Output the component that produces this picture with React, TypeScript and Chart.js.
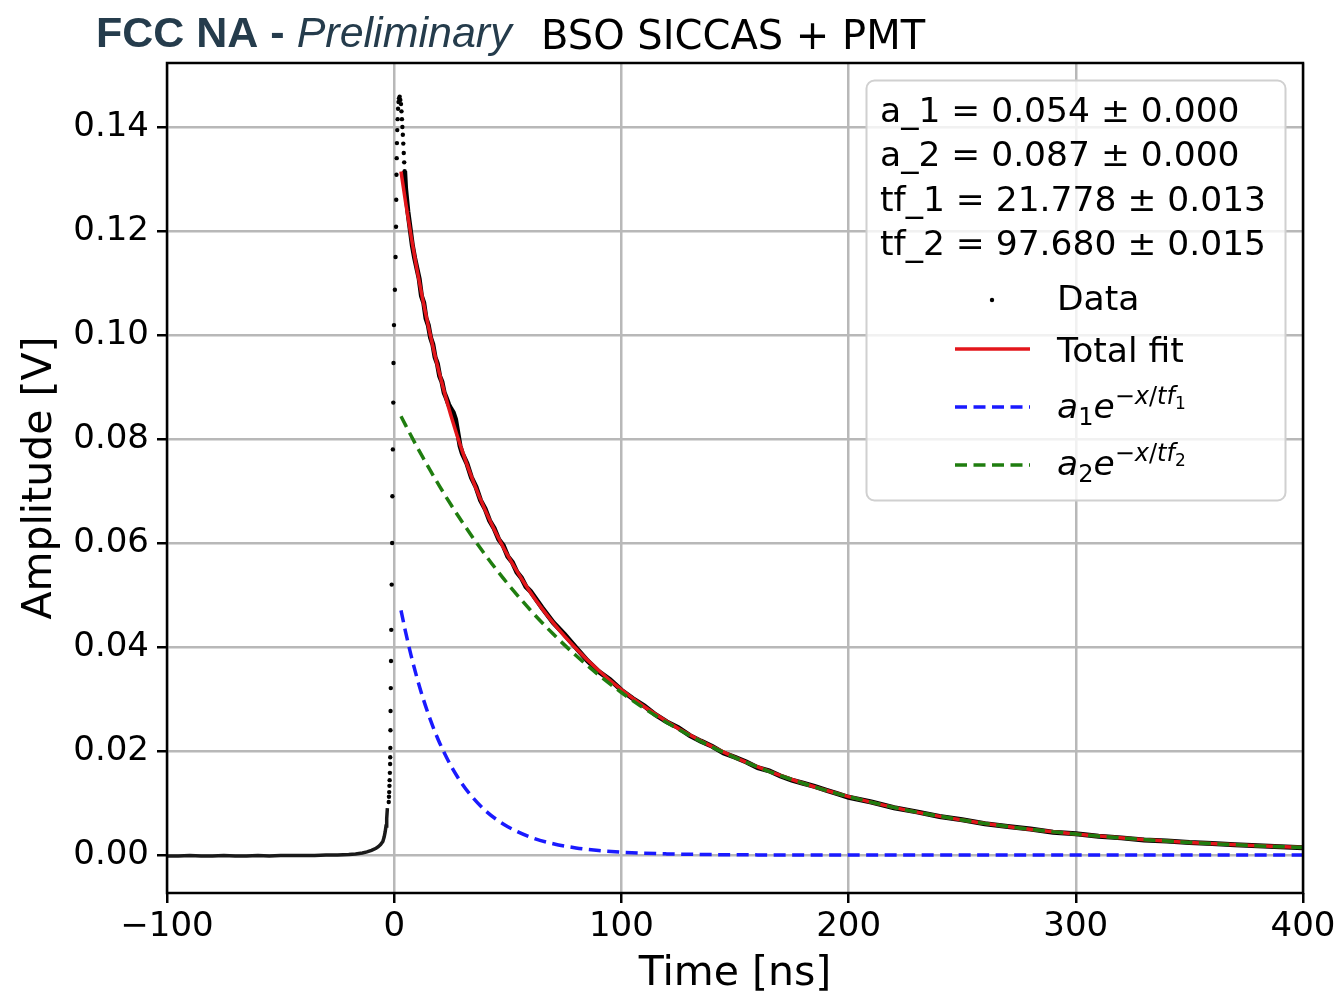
import React, { useEffect, useRef } from 'react';
import { Chart, registerables } from 'chart.js';

Chart.register(...registerables);

// ---------- tick labels ----------
const X_TICKS = [-100, 0, 100, 200, 300, 400];
const Y_TICKS = [0, 0.02, 0.04, 0.06, 0.08, 0.1, 0.12, 0.14];

// ---------- legend text ----------
const PARAM_LINES = [
  'a_1 = 0.054 \u00b1 0.000',
  'a_2 = 0.087 \u00b1 0.000',
  'tf_1 = 21.778 \u00b1 0.013',
  'tf_2 = 97.680 \u00b1 0.015',
];

// ---------- data: baseline + knee (ns, V) ----------
const baseTimes = [-100, -95, -90, -85, -80, -75, -70, -65, -60, -55, -50, -45, -40, -35, -30, -25, -20, -17, -14, -12, -10, -8, -7, -6, -5, -4.4, -4, -3.6, -3.3, -3.0];
const baseAmps = [-0.0002, -0.0002, -0.0001, -0.0002, -0.0002, -0.0001, -0.0002, -0.0002, -0.0001, -0.0002, -0.0001, -0.0001, -0.0001, -0.0001, 0.0, 0.0, 0.0001, 0.0002, 0.0004, 0.0006, 0.0009, 0.0013, 0.0016, 0.002, 0.0026, 0.0035, 0.0044, 0.0056, 0.007, 0.009];

// ---------- data: rising edge + peak (sparse dots) ----------
const riseTimes = [-2.4, -2.3, -2.2, -2.1, -2.0, -1.9, -1.8, -1.75, -1.7, -1.65, -1.6, -1.5, -1.4, -1.3, -1.1, -0.9, -0.8, -0.6, -0.4, -0.3, -0.1, 0.3, 0.6, 0.8, 0.9, 1.0, 1.1, 1.2, 1.35, 1.5, 1.7, 1.9, 2.1, 2.4, 2.7, 3.0, 3.2, 3.4, 3.6, 3.8, 4.0, 4.2, 4.4, 4.6];
const riseAmps = [0.0102, 0.0112, 0.0121, 0.0133, 0.0144, 0.0158, 0.0175, 0.0188, 0.0206, 0.024, 0.0277, 0.0321, 0.0373, 0.0433, 0.052, 0.06, 0.069, 0.078, 0.087, 0.0946, 0.1019, 0.1087, 0.115, 0.1208, 0.126, 0.1308, 0.134, 0.1369, 0.1394, 0.1415, 0.1435, 0.1448, 0.1455, 0.1458, 0.1452, 0.1444, 0.143, 0.1415, 0.14, 0.1385, 0.1368, 0.135, 0.1332, 0.1315];

// ---------- data: decay ----------
const decayTimes = [4.6, 5, 6, 7, 8, 9, 10, 11, 12, 13, 14, 15, 16, 17, 18, 19, 20, 21, 22, 23, 24, 25, 26, 27, 28, 29, 30, 32, 34, 36, 38, 40, 42, 44, 46, 48, 50, 52, 54, 56, 58, 60, 65, 70, 75, 80, 85, 90, 95, 100, 105, 110, 115, 120, 125, 130, 135, 140, 145, 150, 155, 160, 165, 170, 175, 180, 185, 190, 195, 200, 210, 220, 230, 240, 250, 260, 270, 280, 290, 300, 310, 320, 330, 340, 350, 360, 370, 380, 390, 400];
const decayAmps = [0.1315, 0.1282, 0.1238, 0.1205, 0.1172, 0.1148, 0.1128, 0.1108, 0.1075, 0.1062, 0.1032, 0.1019, 0.0995, 0.0982, 0.0957, 0.0945, 0.0921, 0.091, 0.0889, 0.0878, 0.0866, 0.0858, 0.0851, 0.0838, 0.0812, 0.0786, 0.0772, 0.0753, 0.0726, 0.0708, 0.0682, 0.0666, 0.0643, 0.0628, 0.0607, 0.0595, 0.0574, 0.0563, 0.0544, 0.0533, 0.0516, 0.0507, 0.0476, 0.0447, 0.0424, 0.0399, 0.0374, 0.0353, 0.0337, 0.0317, 0.0301, 0.0287, 0.027, 0.0256, 0.0245, 0.023, 0.0219, 0.0209, 0.0196, 0.0188, 0.0179, 0.0168, 0.0162, 0.0152, 0.0144, 0.0138, 0.0132, 0.0125, 0.0118, 0.0111, 0.0102, 0.0091, 0.0083, 0.0074, 0.0068, 0.006, 0.0055, 0.005, 0.0044, 0.0041, 0.0036, 0.0033, 0.0029, 0.0027, 0.0024, 0.0022, 0.002, 0.0018, 0.0016, 0.0014];

// ---------- fit curves ----------
const fitTimes = [3, 5, 7.5, 10, 12.5, 15, 17.5, 20, 25, 30, 35, 40, 45, 50, 60, 70, 80, 90, 100, 110, 120, 130, 140, 150, 160, 175, 190, 200, 225, 250, 275, 300, 325, 350, 375, 400];
const fitTotal = [0.13142, 0.12558, 0.11883, 0.11265, 0.10697, 0.10174, 0.09691, 0.09245, 0.08448, 0.07761, 0.07163, 0.06637, 0.06172, 0.05759, 0.0505, 0.04466, 0.03973, 0.03549, 0.0318, 0.02856, 0.02569, 0.02313, 0.02084, 0.01878, 0.01694, 0.01452, 0.01245, 0.01124, 0.00869, 0.00673, 0.00521, 0.00403, 0.00312, 0.00242, 0.00187, 0.00145];
const fitA1 = [0.04705, 0.04292, 0.03826, 0.03412, 0.03042, 0.02712, 0.02418, 0.02156, 0.01713, 0.01362, 0.01083, 0.0086, 0.00684, 0.00544, 0.00343, 0.00217, 0.00137, 0.00087, 0.00055, 0.00035, 0.00022, 0.00014, 0.00009, 0.00005, 0.00003, 0.00002, 0.00001, 0.00001, 0, 0, 0, 0, 0, 0, 0, 0];
const fitA2 = [0.08437, 0.08266, 0.08057, 0.07853, 0.07655, 0.07462, 0.07273, 0.07089, 0.06735, 0.06399, 0.0608, 0.05777, 0.05488, 0.05215, 0.04707, 0.04249, 0.03836, 0.03462, 0.03125, 0.02821, 0.02547, 0.02299, 0.02075, 0.01873, 0.01691, 0.0145, 0.01244, 0.01123, 0.00869, 0.00673, 0.00521, 0.00403, 0.00312, 0.00242, 0.00187, 0.00145];

const DJ = '"DejaVu Sans"';
const RED = '#e3161b';
const BLUE = '#1a1aff';
const GREEN = '#1f7d0f';

function zip(xs: number[], ys: number[]) {
  const n = Math.min(xs.length, ys.length);
  const out: { x: number; y: number }[] = [];
  for (let i = 0; i < n; i++) out.push({ x: xs[i], y: ys[i] });
  return out;
}

function fmtX(v: number) {
  return v < 0 ? '\u2212' + Math.abs(v) : String(v);
}

function drawMath(ctx: CanvasRenderingContext2D, x: number, base: number, sub: string) {
  let cx = x;
  const put = (t: string, font: string, y: number) => {
    ctx.font = font;
    ctx.fillText(t, cx, y);
    cx += ctx.measureText(t).width;
  };
  put('a', `italic 34.5px ${DJ}`, base);
  put(sub, `24px ${DJ}`, base + 7);
  put('e', `italic 34.5px ${DJ}`, base);
  const sb = base - 14;
  put('\u2212', `24px ${DJ}`, sb);
  put('x', `italic 24px ${DJ}`, sb);
  put('/', `24px ${DJ}`, sb);
  put('tf', `italic 24px ${DJ}`, sb);
  put(sub, `17px ${DJ}`, sb + 5);
}

const framePlugin = {
  id: 'frame',
  afterDatasetsDraw(chart: any) {
    const { ctx, chartArea } = chart;
    const { left, top, right, bottom } = chartArea;
    ctx.save();
    ctx.strokeStyle = '#000';
    ctx.lineWidth = 2.5;
    ctx.strokeRect(left, top, right - left, bottom - top);
    ctx.restore();
  },
};

const decorPlugin = {
  id: 'decor',
  afterDraw(chart: any) {
    const ctx: CanvasRenderingContext2D = chart.ctx;
    const { left, right, top, bottom } = chart.chartArea;
    ctx.save();
    // ---- legend box ----
    ctx.beginPath();
    (ctx as any).roundRect(866.5, 80.5, 419, 420, 8);
    ctx.fillStyle = 'rgba(255,255,255,0.8)';
    ctx.fill();
    ctx.strokeStyle = '#d0d0d0';
    ctx.lineWidth = 2;
    ctx.stroke();

    ctx.fillStyle = '#000';
    ctx.textAlign = 'left';
    ctx.textBaseline = 'alphabetic';
    ctx.font = `34.5px ${DJ}`;
    PARAM_LINES.forEach((t, i) => ctx.fillText(t, 880, 121.5 + i * 44.5));

    // Data
    ctx.beginPath();
    ctx.arc(992, 300, 2.2, 0, Math.PI * 2);
    ctx.fill();
    ctx.fillText('Data', 1057, 310);
    // Total fit
    ctx.strokeStyle = RED;
    ctx.lineWidth = 3.5;
    ctx.beginPath();
    ctx.moveTo(955, 349);
    ctx.lineTo(1030, 349);
    ctx.stroke();
    ctx.fillText('Total fit', 1057, 361.5);
    // a1
    ctx.setLineDash([12, 6.5]);
    ctx.strokeStyle = BLUE;
    ctx.beginPath();
    ctx.moveTo(955, 407);
    ctx.lineTo(1030, 407);
    ctx.stroke();
    drawMath(ctx, 1057, 418, '1');
    // a2
    ctx.strokeStyle = GREEN;
    ctx.beginPath();
    ctx.moveTo(955, 465);
    ctx.lineTo(1030, 465);
    ctx.stroke();
    drawMath(ctx, 1057, 475, '2');
    ctx.setLineDash([]);

    // ---- axis titles ----
    ctx.fillStyle = '#000';
    ctx.font = `41px ${DJ}`;
    ctx.textAlign = 'center';
    ctx.fillText('Time [ns]', (left + right) / 2, 985);
    ctx.save();
    ctx.translate(51, (top + bottom) / 2);
    ctx.rotate(-Math.PI / 2);
    ctx.fillText('Amplitude [V]', 0, 0);
    ctx.restore();

    // ---- page title ----
    ctx.textAlign = 'left';
    ctx.fillStyle = '#253c4c';
    ctx.font = `bold 43px "Liberation Sans"`;
    const t1 = 'FCC NA - ';
    ctx.fillText(t1, 96, 47);
    const w1 = ctx.measureText(t1).width;
    ctx.font = `italic 43px "Liberation Sans"`;
    ctx.fillText('Preliminary', 96 + w1, 47);
    ctx.fillStyle = '#000';
    ctx.font = `40px ${DJ}`;
    ctx.fillText('BSO SICCAS + PMT', 541, 49);
    ctx.restore();
  },
};

export default function App() {
  const ref = useRef<HTMLCanvasElement>(null);
  useEffect(() => {
    document.body.style.margin = '0';
    document.body.style.overflow = 'hidden';
    const canvas = ref.current!;
    const chart = new Chart(canvas, {
      type: 'scatter',
      data: {
        datasets: [
          {
            label: 'a2',
            data: zip(fitTimes, fitA2),
            showLine: true,
            borderColor: GREEN,
            borderWidth: 3.5,
            borderDash: [12, 6.5],
            pointRadius: 0,
            cubicInterpolationMode: 'monotone',
            order: 0,
          },
          {
            label: 'a1',
            data: zip(fitTimes, fitA1),
            showLine: true,
            borderColor: BLUE,
            borderWidth: 3.5,
            borderDash: [12, 6.5],
            pointRadius: 0,
            cubicInterpolationMode: 'monotone',
            order: 1,
          },
          {
            label: 'Total fit',
            data: zip(fitTimes, fitTotal),
            showLine: true,
            borderColor: RED,
            borderWidth: 3.5,
            pointRadius: 0,
            cubicInterpolationMode: 'monotone',
            order: 2,
          },
          {
            label: 'Data decay',
            data: zip(decayTimes, decayAmps),
            showLine: true,
            borderColor: '#000',
            borderWidth: 5,
            pointRadius: 0,
            order: 3,
          },
          {
            label: 'Data rise',
            data: zip(riseTimes, riseAmps),
            showLine: false,
            pointRadius: 2.2,
            pointBackgroundColor: '#000',
            pointBorderWidth: 0,
            order: 4,
          },
          {
            label: 'Data base',
            data: zip(baseTimes, baseAmps),
            showLine: true,
            borderColor: '#1a1a1a',
            borderWidth: 3.5,
            pointRadius: 0,
            order: 5,
          },
        ],
      },
      options: {
        animation: false,
        responsive: false,
        devicePixelRatio: 1,
        layout: { padding: { left: 0, top: 63, right: 40, bottom: 0 } },
        plugins: { legend: { display: false }, tooltip: { enabled: false } },
        scales: {
          x: {
            type: 'linear',
            min: -100,
            max: 400,
            afterBuildTicks: (s: any) => {
              s.ticks = X_TICKS.map((v) => ({ value: v }));
            },
            afterFit: (s: any) => {
              s.height = 102;
            },
            grid: { color: '#b8b8b8', lineWidth: 2.5, drawTicks: true, tickLength: 10, tickColor: '#000', tickWidth: 2.5 },
            border: { display: false },
            ticks: {
              color: '#000',
              font: { family: DJ, size: 34 },
              padding: 4,
              maxRotation: 0,
              autoSkip: false,
              callback: (v: any) => fmtX(Number(v)),
            },
          },
          y: {
            type: 'linear',
            min: -0.0073,
            max: 0.1523,
            afterBuildTicks: (s: any) => {
              s.ticks = Y_TICKS.map((v) => ({ value: v }));
            },
            afterFit: (s: any) => {
              s.width = 167;
            },
            grid: { color: '#b8b8b8', lineWidth: 2.5, drawTicks: true, tickLength: 10, tickColor: '#000', tickWidth: 2.5 },
            border: { display: false },
            ticks: {
              color: '#000',
              font: { family: DJ, size: 34 },
              padding: 8,
              autoSkip: false,
              callback: (v: any) => Number(v).toFixed(2),
            },
          },
        },
      } as any,
      plugins: [framePlugin, decorPlugin],
    });
    return () => chart.destroy();
  }, []);
  return <canvas ref={ref} width={1343} height={995} style={{ display: 'block', width: 1343, height: 995 }} />;
}
